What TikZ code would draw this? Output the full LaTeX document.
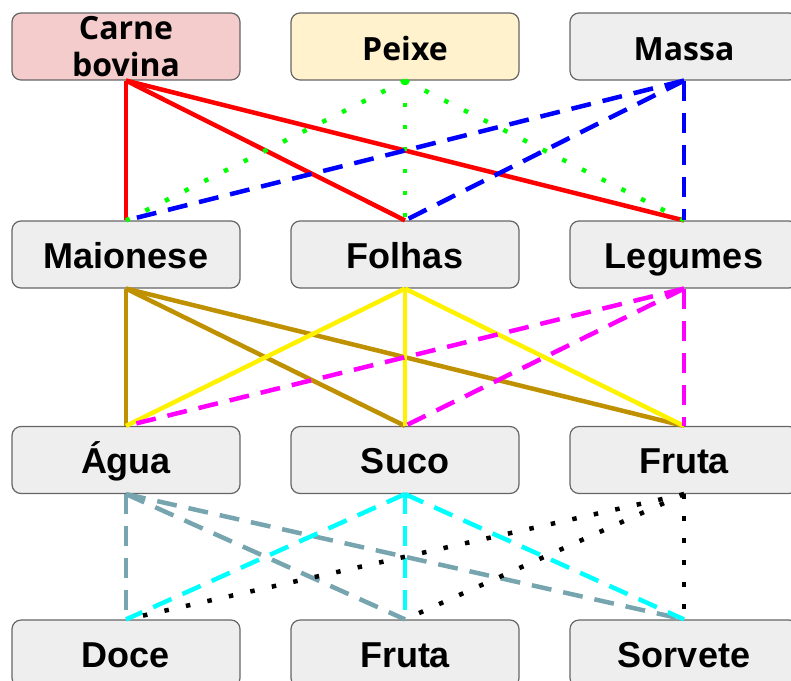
\documentclass[tikz,border=0pt]{standalone}
\usepackage{fontspec}
\usepackage{xcolor}
\setmainfont{Liberation Sans}
\newfontfamily\opensans{Open Sans}
\definecolor{carnefill}{HTML}{F4CCCC}
\definecolor{peixefill}{HTML}{FFF2CC}
\definecolor{boxfill}{HTML}{EEEEEE}
\definecolor{boxdraw}{HTML}{666666}
\definecolor{ouro}{HTML}{BF9000}
\definecolor{azulcinza}{HTML}{76A5AF}
\definecolor{rosa}{HTML}{FF00FF}
\definecolor{ciano}{HTML}{00FFFF}
\definecolor{verde}{HTML}{00FF00}

\begin{document}
\begin{tikzpicture}[x=1pt,y=-1pt,%
% common options for the boxes:
box/.style = {draw=boxdraw, line width=1.2pt, fill=boxfill, rounded corners=9pt,
            minimum width=228pt, minimum height=67pt, align=center, inner sep=0,
            font=\fontsize{36}{40}\selectfont\bfseries},
oneline/.style = {text height=27pt, text depth=0pt},
topbox/.style = {box, font=\fontsize{32}{37}\selectfont\opensans\bfseries},
% common options for the connectors:
link/.style = {line width=4.5pt},
dashlink/.style = {link, dash pattern=on 20pt off 12pt},
dotlink/.style = {link, dash pattern=on 4.5pt off 17.5pt}]
\useasboundingbox (0,0) rectangle (791,680);
% first row
\node[topbox,fill=carnefill] (carne) at (126,46.5) {Carne\\bovina};
\node[topbox,oneline,fill=peixefill] (peixe) at (405,46.5) {Peixe};
\node[topbox,oneline] (massa) at (684,46.5) {Massa};
% second row
\node[box,oneline] (maionese) at (126,254.5) {Maionese};
\node[box,oneline] (folhas) at (405,254.5) {Folhas};
\node[box,oneline] (legumes) at (684,254.5) {Legumes};
% third row
\node[box,oneline] (agua) at (126,460) {Água};
\node[box,oneline] (suco) at (405,460) {Suco};
\node[box,oneline] (fruta) at (684,460) {Fruta};
% fourth row
\node[box,oneline] (doce) at (126,653.5) {Doce};
\node[box,oneline] (frutab) at (405,653.5) {Fruta};
\node[box,oneline] (sorvete) at (684,653.5) {Sorvete};
% first row to second row
\draw[link,red] (carne.south) -- (maionese.north);
\draw[link,red] (carne.south) -- (folhas.north);
\draw[link,red] (carne.south) -- (legumes.north);
\draw[dotlink,verde] (peixe.south) -- (maionese.north);
\draw[dotlink,verde] (peixe.south) -- (folhas.north);
\draw[dotlink,verde] (peixe.south) -- (legumes.north);
\draw[dashlink,blue] (massa.south) -- (maionese.north);
\draw[dashlink,blue] (massa.south) -- (folhas.north);
\draw[dashlink,blue] (massa.south) -- (legumes.north);
% second row to third row
\draw[link,ouro] (maionese.south) -- (agua.north);
\draw[link,ouro] (maionese.south) -- (suco.north);
\draw[link,ouro] (maionese.south) -- (fruta.north);
\draw[link,yellow] (folhas.south) -- (agua.north);
\draw[link,yellow] (folhas.south) -- (suco.north);
\draw[link,yellow] (folhas.south) -- (fruta.north);
\draw[dashlink,rosa] (legumes.south) -- (agua.north);
\draw[dashlink,rosa] (legumes.south) -- (suco.north);
\draw[dashlink,rosa] (legumes.south) -- (fruta.north);
% third row to fourth row
\draw[dashlink,azulcinza] (agua.south) -- (doce.north);
\draw[dashlink,azulcinza] (agua.south) -- (frutab.north);
\draw[dashlink,azulcinza] (agua.south) -- (sorvete.north);
\draw[dashlink,ciano] (suco.south) -- (doce.north);
\draw[dashlink,ciano] (suco.south) -- (frutab.north);
\draw[dashlink,ciano] (suco.south) -- (sorvete.north);
\draw[dotlink,black] (fruta.south) -- (doce.north);
\draw[dotlink,black] (fruta.south) -- (frutab.north);
\draw[dotlink,black] (fruta.south) -- (sorvete.north);
\end{tikzpicture}
\end{document}
